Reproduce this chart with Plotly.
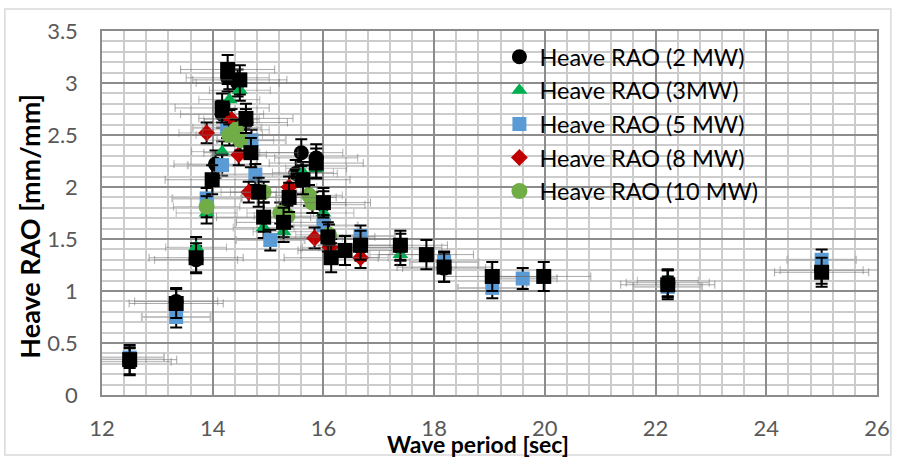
import plotly.graph_objects as go

# ---- data ----
x_2mw_c = [12.5, 13.34, 13.7, 14.05, 14.17, 14.27, 14.45, 14.6, 15.5, 15.6, 15.87, 16.0, 16.67, 17.39, 18.18, 22.22, 25.0]
y_2mw_c = [0.32, 0.90, 1.30, 2.22, 2.70, 3.05, 3.00, 2.62, 2.13, 2.33, 2.28, 1.83, 1.42, 1.42, 1.22, 1.08, 1.20]

x_3mw = [13.7, 13.89, 14.17, 14.3, 14.49, 14.92, 15.28, 15.63, 15.87, 16.0, 16.14, 17.39, 22.22]
y_3mw = [1.42, 1.75, 2.34, 2.84, 2.93, 1.61, 1.57, 2.14, 2.18, 1.75, 1.40, 1.35, 1.10]

x_5mw = [12.5, 13.34, 13.89, 14.17, 14.26, 14.7, 14.77, 15.04, 16.0, 16.67, 18.18, 19.05, 19.6, 22.22, 25.0]
y_5mw = [0.36, 0.75, 1.89, 2.21, 2.57, 2.45, 2.12, 1.49, 1.63, 1.53, 1.28, 1.03, 1.12, 1.04, 1.30]

x_8mw = [13.89, 14.34, 14.47, 14.65, 15.38, 15.84, 16.12, 16.67]
y_8mw = [2.52, 2.65, 2.31, 1.95, 2.00, 1.51, 1.42, 1.32]

x_10mw = [13.89, 14.3, 14.42, 14.5, 14.92, 15.22, 15.35, 15.74, 15.8, 16.1]
y_10mw = [1.81, 2.50, 2.55, 2.45, 1.95, 1.75, 1.72, 1.92, 1.85, 1.54]

x_2mw_s = [12.5, 13.34, 13.7, 13.99, 14.17, 14.27, 14.49, 14.6, 14.69, 14.83, 14.92, 15.28, 15.38,
           15.63, 15.87, 16.0, 16.08, 16.14, 16.39, 16.67, 17.39, 17.86, 18.18, 19.05, 19.98, 22.22, 25.0]
y_2mw_s = [0.34, 0.88, 1.32, 2.07, 2.76, 3.13, 3.03, 2.66, 2.33, 1.95, 1.71, 1.66, 1.90,
           2.07, 2.23, 1.85, 1.52, 1.32, 1.39, 1.44, 1.44, 1.35, 1.23, 1.14, 1.14, 1.06, 1.18]

names = ["Heave RAO (2 MW)", "Heave RAO (3MW)", "Heave RAO (5 MW)", "Heave RAO (8 MW)", "Heave RAO (10 MW)"]

x_ticks = [12, 14, 16, 18, 20, 22, 24, 26]
y_ticks = [0, 0.5, 1, 1.5, 2, 2.5, 3, 3.5]

FONT = "Lato, Carlito, 'Open Sans', sans-serif"

fig = go.Figure()


def add(xs, ys, name, symbol, color, size, xerr, xerr_color, xerr_th, yerr, show=True):
    fig.add_trace(go.Scatter(
        x=xs, y=ys, mode="markers", name=name, showlegend=show,
        legendgroup=name,
        marker=dict(symbol=symbol, color=color, size=size, line=dict(width=0)),
        error_x=dict(type="constant", value=xerr, color=xerr_color, thickness=xerr_th, width=4),
        error_y=dict(type="constant", value=yerr, color="black", thickness=2, width=6),
    ))


add(x_2mw_c, y_2mw_c, names[0], "circle", "#000000", 15, 0.75, "rgba(110,110,110,0.55)", 1, 0.13)
add(x_3mw, y_3mw, names[1], "triangle-up", "#00b050", 14, 0.55, "rgba(120,120,120,0.5)", 1, 0.1)
add(x_5mw, y_5mw, names[2], "square", "#5b9bd5", 14, 0.62, "rgba(170,170,170,0.7)", 2, 0.1)
add(x_8mw, y_8mw, names[3], "diamond", "#c00000", 13, 0.5, "rgba(120,120,120,0.5)", 1, 0.1)
add(x_10mw, y_10mw, names[4], "circle", "#70ad47", 16, 0.6, "rgba(120,120,120,0.5)", 1, 0.1)
add(x_2mw_s, y_2mw_s, "2 MW", "square", "#000000", 15, 0.85, "rgba(110,110,110,0.6)", 1, 0.14, show=False)

L, R, T, B = 102, 18, 31, 62
W, H = 902, 457
pw, ph = W - L - R, H - T - B


def px2paper_x(px):
    return (px - L) / pw


def px2paper_y(py):
    return (H - B - py) / ph


fig.update_layout(
    width=W, height=H,
    margin=dict(l=L, r=R, t=T, b=B),
    paper_bgcolor="white", plot_bgcolor="white",
    font=dict(family=FONT, size=22, color="#595959"),
    showlegend=True,
    legend=dict(
        x=px2paper_x(503), y=px2paper_y(35), xanchor="left", yanchor="top",
        bgcolor="rgba(0,0,0,0)", font=dict(family=FONT, size=23.5, color="black"),
        traceorder="grouped", tracegroupgap=0, itemwidth=30,
    ),
    xaxis=dict(
        range=[12, 26], tickvals=x_ticks, ticktext=[str(v) for v in x_ticks],
        showgrid=True, gridcolor="#8c8c8c", gridwidth=1.5,
        minor=dict(dtick=0.4, showgrid=True, gridcolor="#cccccc", gridwidth=1.5),
        showline=True, linecolor="#8c8c8c", linewidth=1.5, mirror=True,
        zeroline=False, ticks="", ticklabelstandoff=13,
        tickfont=dict(family=FONT, size=22, color="#595959"),
    ),
    yaxis=dict(
        range=[0, 3.5], tickvals=y_ticks, ticktext=["0", "0.5", "1", "1.5", "2", "2.5", "3", "3.5"],
        showgrid=True, gridcolor="#8c8c8c", gridwidth=1.5,
        minor=dict(dtick=0.1, showgrid=True, gridcolor="#cccccc", gridwidth=1.5),
        showline=True, linecolor="#8c8c8c", linewidth=1.5, mirror=True,
        zeroline=False, ticks="", ticklabelstandoff=18,
        tickfont=dict(family=FONT, size=22, color="#595959"),
    ),
    annotations=[
        dict(text="<b>Wave period [sec]</b>", xref="paper", yref="paper",
             x=px2paper_x(481), y=px2paper_y(444), xanchor="center", yanchor="middle",
             showarrow=False, font=dict(family=FONT, size=23, color="black")),
        dict(text="<b>Heave RAO [mm/mm]</b>", xref="paper", yref="paper",
             x=px2paper_x(28), y=px2paper_y(226), xanchor="center", yanchor="middle",
             textangle=-90, showarrow=False, font=dict(family=FONT, size=27, color="black")),
    ],
    shapes=[
        dict(type="rect", xref="paper", yref="paper",
             x0=px2paper_x(4), x1=px2paper_x(898), y0=px2paper_y(455), y1=px2paper_y(9),
             line=dict(color="#d9d9d9", width=1.5), fillcolor="rgba(0,0,0,0)", layer="below"),
    ],
)

fig.write_html("out.html")
